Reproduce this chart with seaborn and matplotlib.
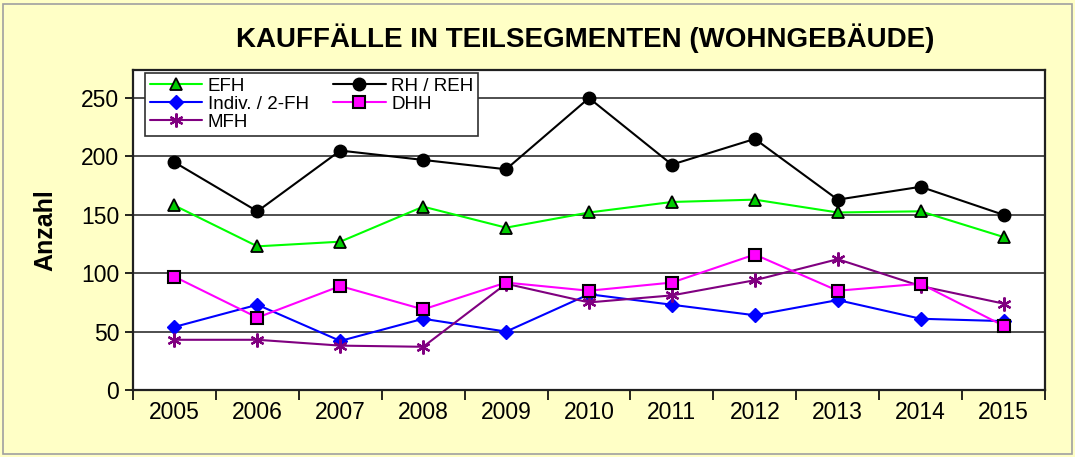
import numpy as np
import pandas as pd
import seaborn as sns
import matplotlib.pyplot as plt
from matplotlib.patches import Rectangle
from matplotlib.ticker import FixedLocator

years = [2005, 2006, 2007, 2008, 2009, 2010, 2011, 2012, 2013, 2014, 2015]
efh = [158, 123, 127, 157, 139, 152, 161, 163, 152, 153, 131]
rh_reh = [195, 153, 205, 197, 189, 250, 193, 215, 163, 174, 150]
indiv_2fh = [54, 73, 42, 61, 50, 82, 73, 64, 77, 61, 59]
dhh = [97, 62, 89, 69, 92, 85, 92, 116, 85, 91, 55]
mfh = [43, 43, 38, 37, 91, 75, 81, 94, 112, 89, 74]

title = "KAUFFÄLLE IN TEILSEGMENTEN (WOHNGEBÄUDE)"
ylabel = "Anzahl"

sns.set_theme(style="white")
plt.rcParams['font.family'] = ['Liberation Sans', 'DejaVu Sans']

bg = "#FFFFC6"
fig = plt.figure(figsize=(10.75, 4.57), dpi=100, facecolor=bg)
ax = fig.add_axes([133/1075, 1-390/457, (1045-133)/1075, (390-70)/457])
ax.set_facecolor("white")

series = [
    ("EFH", efh, dict(color="#00FF00", marker="^", markersize=9, markerfacecolor="#00CC00", markeredgecolor="black", markeredgewidth=1.3)),
    ("Indiv. / 2-FH", indiv_2fh, dict(color="#0000FF", marker="D", markersize=7, markerfacecolor="#0000FF", markeredgecolor="#0000FF", markeredgewidth=1)),
    ("MFH", mfh, dict(color="#800080", marker=(6, 2, 0), markersize=10, markerfacecolor="#800080", markeredgecolor="#800080", markeredgewidth=1.6)),
    ("RH / REH", rh_reh, dict(color="black", marker="o", markersize=9, markerfacecolor="black", markeredgecolor="black", markeredgewidth=1)),
    ("DHH", dhh, dict(color="#FF00FF", marker="s", markersize=9, markerfacecolor="#FF00FF", markeredgecolor="black", markeredgewidth=1.5)),
]
draw_order = [1, 2, 4, 0, 3]
for i in draw_order:
    name, vals, kw = series[i]
    sns.lineplot(x=years, y=vals, ax=ax, linewidth=1.5, label=name, **kw)

ax.set_xlim(2004.5, 2015.5)
ax.set_ylim(0, 274)
ax.set_yticks([0, 50, 100, 150, 200, 250])
ax.yaxis.grid(True, color="#404040", linewidth=1.3)
ax.xaxis.grid(False)

ax.xaxis.set_major_locator(FixedLocator(np.arange(2004.5, 2016, 1.0)))
ax.xaxis.set_minor_locator(FixedLocator(years))
ax.set_xticklabels([])
ax.set_xticklabels([str(y) for y in years], minor=True)
ax.tick_params(axis="x", which="major", direction="out", length=7, width=1.2, color="black", bottom=True)
ax.tick_params(axis="x", which="minor", length=0, labelsize=16.5, pad=8, labelcolor="black")
ax.tick_params(axis="y", direction="out", length=6, width=1.2, color="black", left=True, labelsize=16.5, pad=4, labelcolor="black")

for s in ax.spines.values():
    s.set_color("#202020")
    s.set_linewidth(1.6)

ax.set_ylabel(ylabel, fontsize=18, fontweight="bold", color="black")
ax.yaxis.set_label_coords(-76/912, 0.5)
ax.set_xlabel("")

h, l = ax.get_legend_handles_labels()
order = ["EFH", "Indiv. / 2-FH", "MFH", "RH / REH", "DHH"]
hmap = dict(zip(l, h))
leg = ax.legend([hmap[k] for k in order], order, ncol=2, loc="upper left",
                bbox_to_anchor=(12/912, 1 - 3/320), frameon=True, fancybox=False,
                edgecolor="#303030", fontsize=13.5, handlelength=2.8,
                columnspacing=1.3, labelspacing=0.05, borderpad=0.25,
                handletextpad=0.3, borderaxespad=0.0)
for t in leg.get_texts():
    t.set_color("black")
leg.get_frame().set_linewidth(1.2)
leg.get_frame().set_facecolor("white")
leg.get_frame().set_alpha(1)

fig.text(585/1075, 1-38/457, title, ha="center", va="center", fontsize=20,
         fontweight="bold", color="black")

fig.patches.append(Rectangle((3/1075, 3/457), 1069/1075, 450/457, transform=fig.transFigure,
                             fill=False, edgecolor="#A0A0A0", linewidth=1.2))

fig.savefig("out.png", dpi=100, facecolor=bg)
